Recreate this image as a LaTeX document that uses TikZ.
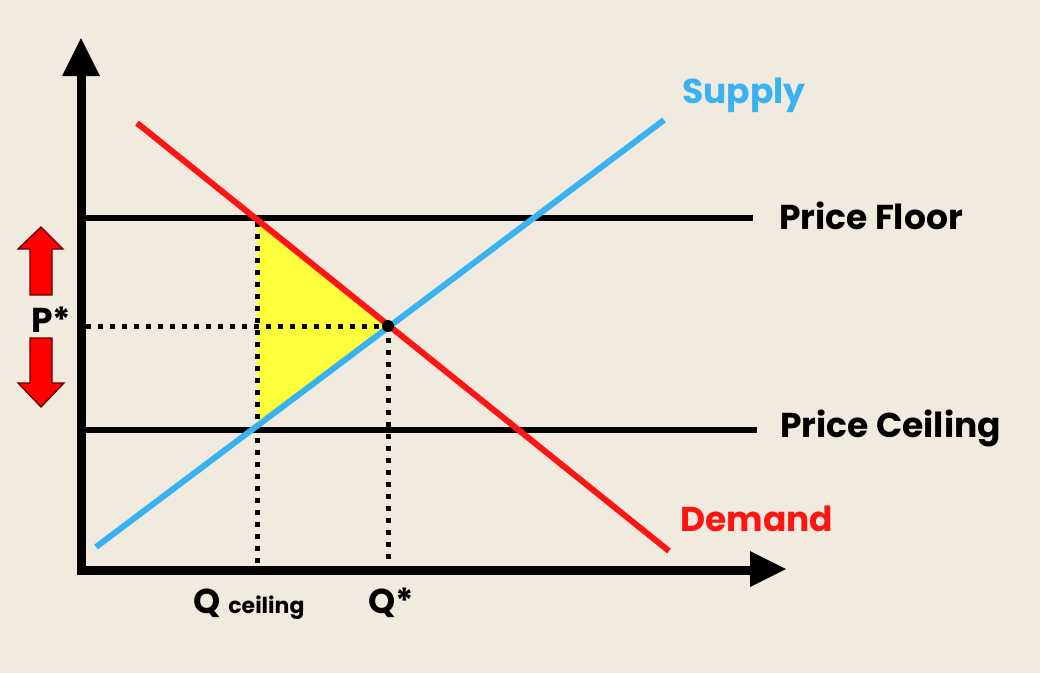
\documentclass[tikz,border=0pt]{standalone}
\usepackage{fontspec}
\setmainfont{Poppins}
\definecolor{bg}{RGB}{241,234,223}
\definecolor{supblue}{RGB}{56,178,240}
\definecolor{demred}{RGB}{255,20,20}
\definecolor{yel}{RGB}{255,255,60}
\definecolor{arrred}{RGB}{255,0,0}
\begin{document}
\begin{tikzpicture}[x=1pt,y=-1pt,
  axis/.style={line width=9pt,line join=miter},
  axhead/.style={fill=black,draw=none},
  pline/.style={line width=6.5pt},
  curve/.style={line width=6pt},
  dots/.style={line width=5pt,dash pattern=on 5pt off 7pt},
  lbl/.style={font=\fontsize{34.5}{40}\selectfont\bfseries,inner sep=0pt},
  blockarrow/.style={fill=arrred,draw=black!60!red,line width=1.3pt,line join=miter}]
\fill[bg] (0,0) rectangle (1040,673);
\useasboundingbox (0,0) rectangle (1040,673);
% coordinates
\coordinate (ytop) at (81,76);
\coordinate (origin) at (81,570);
\coordinate (xend) at (752,570);
\coordinate (yL) at (85,218);
\coordinate (yR) at (753,218);
\coordinate (cL) at (85,430);
\coordinate (cR) at (757,430);
\coordinate (d1) at (137,123);
\coordinate (d2) at (669,551);
\coordinate (s1) at (96,547);
\coordinate (s2) at (664,120);
\coordinate (E) at (388,326);
\coordinate (A) at (257,219);
\coordinate (B) at (257,426);
\coordinate (pstar) at (86,326);
\coordinate (qc) at (257,566);
\coordinate (qs) at (388,566);
\coordinate (At) at (257,222);
% yellow triangle
\fill[yel] (A) -- (E) -- (B) -- cycle;
% dotted lines
\draw[dots] (pstar) -- (E);
\draw[dots] (E) -- (qs);
\draw[dots] (At) -- (qc);
% price lines
\draw[pline] (yL) -- (yR);
\draw[pline] (cL) -- (cR);
% demand & supply
\draw[curve,demred] (d1) -- (d2);
\draw[curve,supblue] (s1) -- (s2);
% axes
\draw[axis] (ytop) -- (origin) -- (xend);
\fill[axhead] (81,38) -- (62,76) -- (100,76) -- cycle;
\fill[axhead] (786,569) -- (750,551) -- (750,587) -- cycle;
% equilibrium dot
\fill (E) circle (6);
% red block arrows
\draw[blockarrow] (41,227) -- (63,249) -- (52,249) -- (52,295) -- (30,295) -- (30,249) -- (18,249) -- cycle;
\draw[blockarrow] (30,338) -- (52,338) -- (52,383) -- (64,383) -- (41,407) -- (18,383) -- (30,383) -- cycle;
% labels
\node[lbl,anchor=base west] (Pst) at (31,332) {P*};
\node[lbl,anchor=base west] (PF) at (779,229) {Price Floor};
\node[lbl,anchor=base west] (PC) at (780,437) {Price Ceiling};
\node[lbl,anchor=base west,text=supblue] (Sup) at (682,103) {Supply};
\node[lbl,anchor=base west,text=demred] (Dem) at (680,531) {Demand};
\node[lbl,anchor=base west] (QC) at (193,613) {Q\hspace{8pt}{\fontsize{22}{26}\selectfont ceiling}};
\node[lbl,anchor=base west] (QS) at (368,613) {Q*};
\end{tikzpicture}
\end{document}
